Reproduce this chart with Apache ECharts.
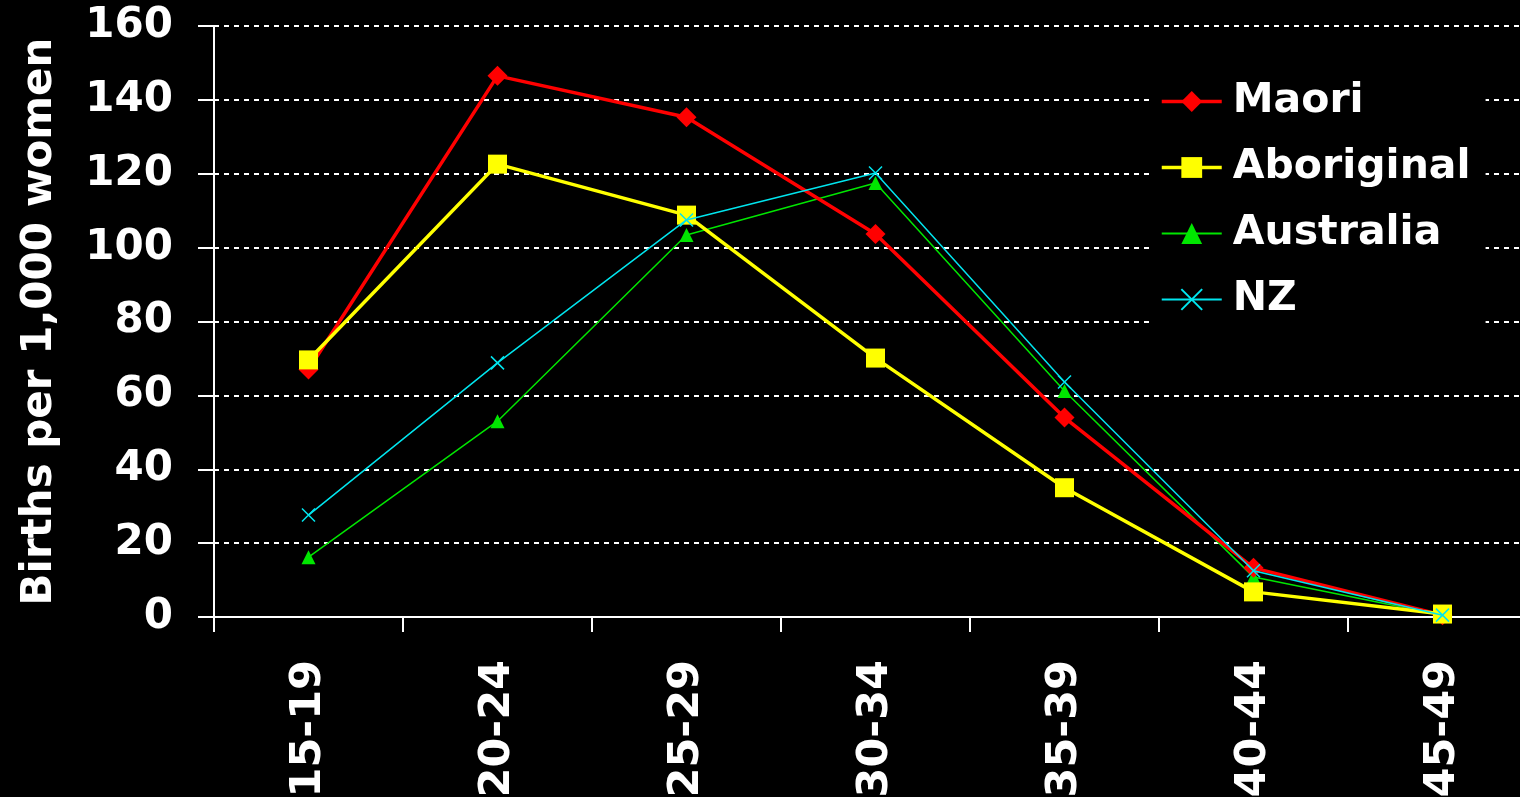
<!DOCTYPE html>
<html><head><meta charset="utf-8">
<script src="https://cdn.jsdelivr.net/npm/echarts@6/dist/echarts.min.js"></script>
<style>html,body{margin:0;padding:0;background:#000;}#c{width:1520px;height:797px;}</style>
</head><body><div id="c"></div>
<script>
const categories = ['15-19','20-24','25-29','30-34','35-39','40-44','45-49'];
const maori      = [67, 146.5, 135.3, 103.7, 54, 13.3, 0.5];
const aboriginal = [69.6, 122.6, 108.8, 70.1, 35, 6.8, 0.8];
const australia  = [16.2, 53, 103.4, 117.5, 61.2, 10.8, 0.5];
const nz         = [27.6, 68.8, 107.5, 120.2, 63.6, 12.5, 0.5];
const yTicks = [0, 20, 40, 60, 80, 100, 120, 140, 160];

const FONT = '"DejaVu Sans", Verdana, sans-serif';
const RED = '#ff0000', YEL = '#ffff00', GRN = '#00e600', CYN = '#00e5ee';
const chart = echarts.init(document.getElementById('c'), null, {renderer: 'canvas'});
chart.setOption({
  backgroundColor: '#000',
  animation: false,
  grid: { left: 214, top: 26, width: 1323, bottom: 180, containLabel: false, outerBoundsMode: 'none' },
  legend: {
    orient: 'vertical', left: 1150, top: 71,
    backgroundColor: '#000', padding: [10, 15, 10, 10],
    itemWidth: 60, itemHeight: 26, itemGap: 25,
    textStyle: { color: '#fff', fontSize: 41, fontWeight: 'bold', fontFamily: FONT, padding: [0,0,0,6] },
    data: [
      { name: 'Maori', lineStyle: { width: 3.5, color: RED }, itemStyle: { color: RED } },
      { name: 'Aboriginal', lineStyle: { width: 3.5, color: YEL }, itemStyle: { color: YEL } },
      { name: 'Australia', lineStyle: { width: 2, color: GRN }, itemStyle: { color: GRN } },
      { name: 'NZ', lineStyle: { width: 2, color: CYN } }
    ]
  },
  xAxis: {
    type: 'category', data: categories, boundaryGap: true,
    axisLine: { lineStyle: { color: '#fff', width: 2 } },
    axisTick: { show: true, length: 15, lineStyle: { color: '#fff', width: 2 } },
    axisLabel: { rotate: 90, margin: 43, color: '#fff', fontSize: 43, fontWeight: 'bold', fontFamily: FONT },
    splitLine: { show: false }
  },
  yAxis: {
    type: 'value', min: yTicks[0], max: yTicks[yTicks.length-1], interval: 20,
    name: 'Births per 1,000 women', nameLocation: 'middle', nameGap: 153, nameRotate: 90,
    nameTextStyle: { color: '#fff', fontSize: 42, fontWeight: 'bold', fontFamily: FONT },
    axisLine: { show: true, lineStyle: { color: '#fff', width: 2 } },
    axisTick: { show: true, length: 16, lineStyle: { color: '#fff', width: 2 } },
    axisLabel: { color: '#fff', fontSize: 42, fontWeight: 'bold', fontFamily: FONT, margin: 41 },
    splitLine: { show: true, lineStyle: { color: '#fff', width: 2, type: [5, 5] } }
  },
  series: [
    { name: 'Maori', type: 'line', data: maori, symbol: 'diamond', symbolSize: 20,
      lineStyle: { color: RED, width: 3.5 }, itemStyle: { color: RED }, z: 4 },
    { name: 'Aboriginal', type: 'line', data: aboriginal, symbol: 'rect', symbolSize: 19,
      lineStyle: { color: YEL, width: 3.5 }, itemStyle: { color: YEL }, z: 5 },
    { name: 'Australia', type: 'line', data: australia, symbol: 'triangle', symbolSize: 14,
      lineStyle: { color: GRN, width: 1.5 }, itemStyle: { color: GRN }, z: 3 },
    { name: 'NZ', type: 'line', data: nz, symbol: 'path://M0,0L10,10M10,0L0,10', symbolSize: 13,
      lineStyle: { color: CYN, width: 1.5 },
      itemStyle: { color: 'transparent', borderColor: CYN, borderWidth: 1.5 }, z: 6 }
  ]
});
</script></body></html>
